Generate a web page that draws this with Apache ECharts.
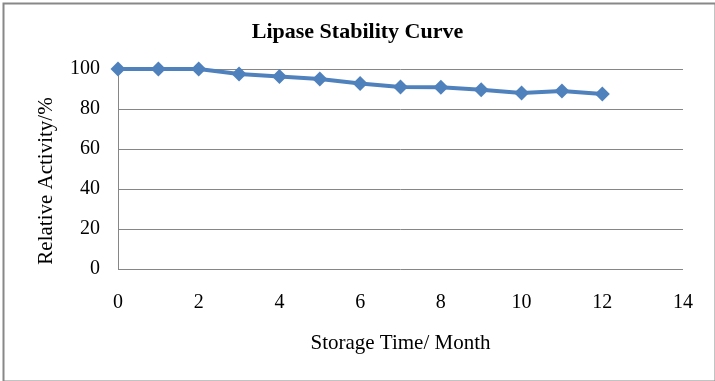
<!DOCTYPE html>
<html>
<head>
<meta charset="utf-8">
<script src="https://cdn.jsdelivr.net/npm/echarts@6/dist/echarts.min.js"></script>
<style>html,body{margin:0;padding:0;background:#fff}#c{width:715px;height:381px}</style>
</head>
<body>
<div id="c"></div>
<script>
const titleText = "Lipase Stability Curve";
const xName = "Storage Time/ Month";
const yName = "Relative Activity/%";
const months = [0,1,2,3,4,5,6,7,8,9,10,11,12];
const activity = [100,100,100,97.5,96.3,95,92.8,91,90.9,89.6,88,89,87.5];

const chart = echarts.init(document.getElementById('c'), null, {renderer:'canvas'});
const font = "'Liberation Serif','Times New Roman',serif";
chart.setOption({
  animation:false,
  backgroundColor:'#fff',
  graphic:[{type:'rect',left:1,top:1,shape:{width:712,height:378},style:{fill:'none',stroke:'#888',lineWidth:2},silent:true}],
  title:{text:titleText,left:'center',top:16,textStyle:{fontFamily:font,fontWeight:'bold',fontSize:22,color:'#000'}},
  grid:{left:118,right:32,top:69,bottom:112},
  xAxis:{type:'value',min:0,max:14,interval:2,
    name:xName,nameLocation:'middle',nameGap:64,
    nameTextStyle:{fontFamily:font,fontSize:21,color:'#000'},
    axisLine:{show:false},axisTick:{show:false},splitLine:{show:false},
    axisLabel:{margin:24,fontFamily:font,fontSize:20,color:'#000'}},
  yAxis:{type:'value',min:0,max:100,interval:20,
    name:yName,nameLocation:'middle',nameGap:61,
    nameTextStyle:{fontFamily:font,fontSize:21,color:'#000',padding:[0,24,0,0]},
    axisLine:{show:true,lineStyle:{color:'#868686',width:1}},axisTick:{show:false},
    splitLine:{show:true,lineStyle:{color:'#868686',width:1}},
    axisLabel:{margin:18,fontFamily:font,fontSize:20,color:'#000'}},
  series:[{type:'line',data:months.map((m,i)=>[m,activity[i]]),
    symbol:'diamond',symbolSize:15,
    lineStyle:{color:'#4F81BD',width:4},
    itemStyle:{color:'#4F81BD'}}]
});
</script>
</body>
</html>
